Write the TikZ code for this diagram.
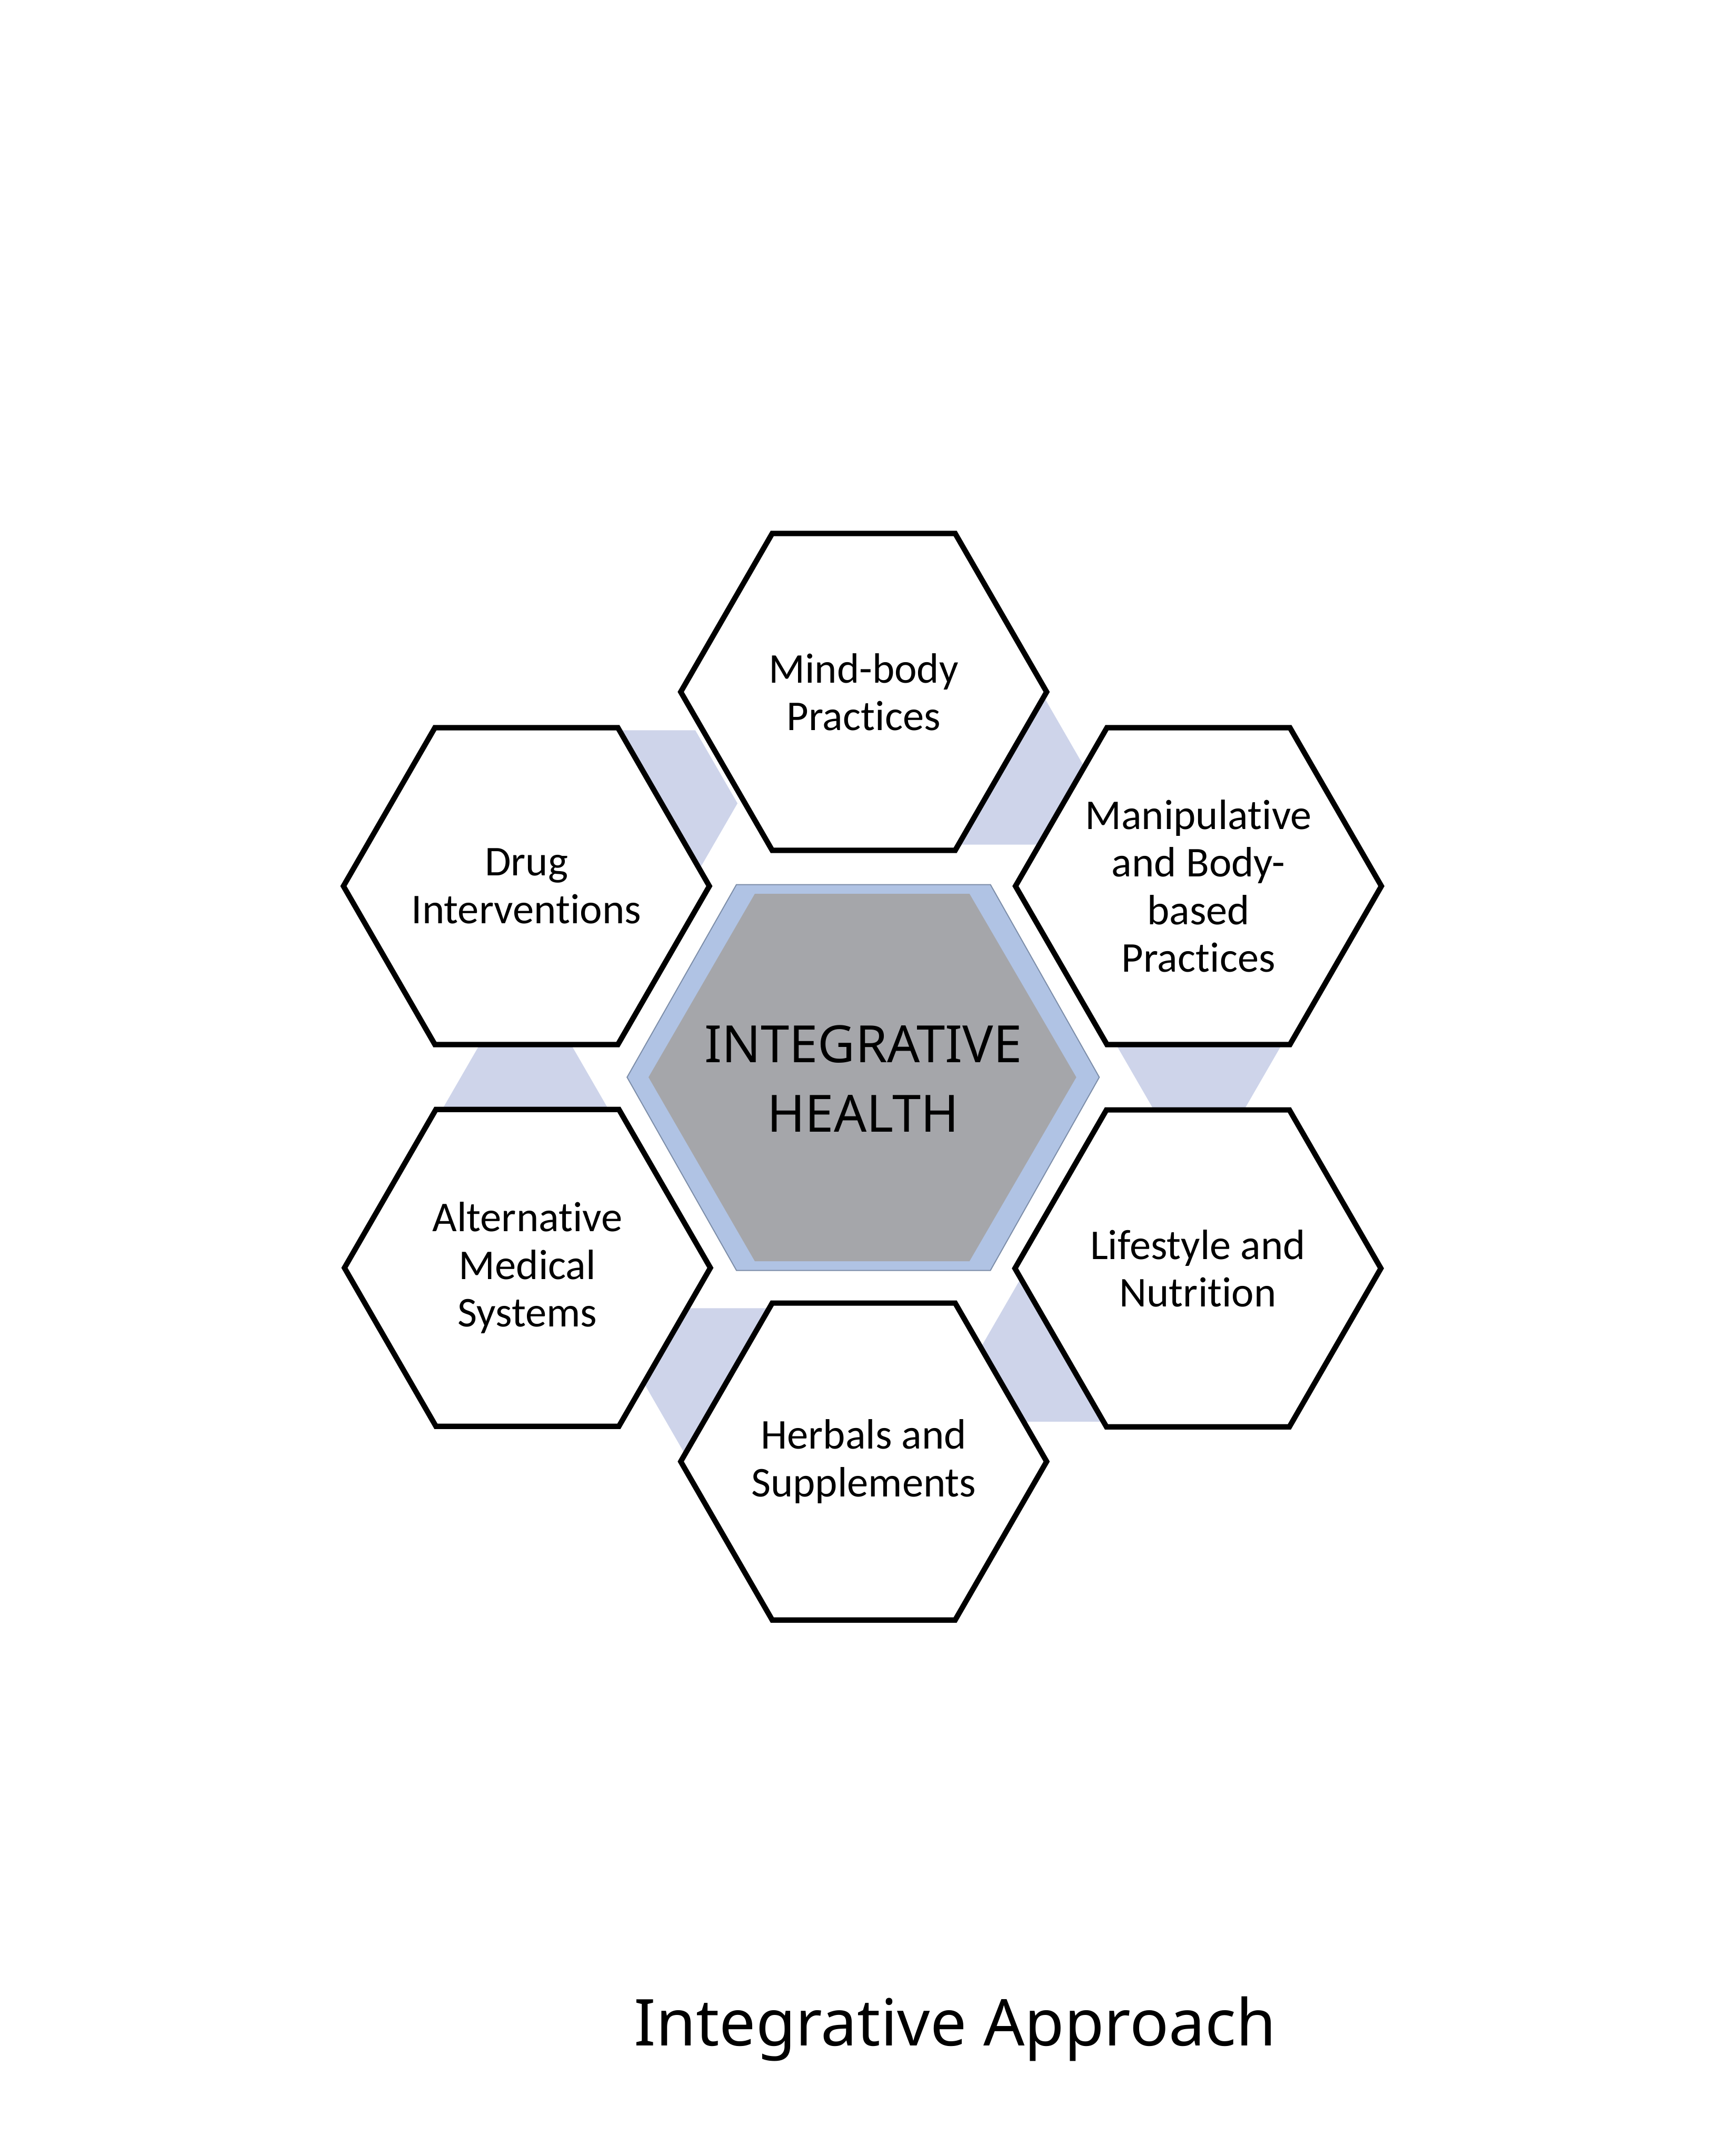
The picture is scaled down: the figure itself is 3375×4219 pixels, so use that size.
\documentclass[tikz,border=0pt]{standalone}
\usepackage{fontspec}
\setmainfont{Carlito}[Ligatures={NoCommon}]
\newfontfamily\notosans{Noto Sans}
\usetikzlibrary{shapes.geometric}
\definecolor{bandcol}{RGB}{206,212,234}
\definecolor{rimcol}{RGB}{176,195,228}
\definecolor{coregray}{RGB}{165,166,170}
\definecolor{rimline}{RGB}{124,141,168}
\begin{document}
\begin{tikzpicture}[x=0.2pt,y=-0.2pt,
  outerhex/.style={regular polygon, regular polygon sides=6, minimum size=143.2pt,
    inner sep=0pt, outer sep=0pt, draw=black, line width=2.1pt, fill=white},
  hexlabel/.style={inner sep=0pt, align=center, font=\fontsize{16.6}{18.6}\selectfont},
  bandhex/.style={regular polygon, regular polygon sides=6, minimum size=66pt,
    inner sep=0pt, outer sep=0pt, fill=bandcol, draw=none},
  corelabel/.style={align=center, font=\notosans\fontsize{20.1}{27.2}\selectfont},
  titlelabel/.style={anchor=base, font=\notosans\fontsize{25.3}{30}\selectfont}]
\useasboundingbox[fill=white] (0,0) rectangle (3375,4219);
% connector bands (behind)
\node[bandhex] (band1) at (1278,1572) {};
\node[bandhex] (band2) at (1962,1510) {};
\node[bandhex] (band3) at (2346,2039) {};
\node[bandhex] (band4) at (2083,2639) {};
\node[bandhex] (band5) at (1423,2703) {};
\node[bandhex] (band6) at (1028,2175) {};
% outer hexagons
\node[outerhex] (mb) at (1690,1354) {};
\node[outerhex] (di) at (1030,1734) {};
\node[outerhex] (mp) at (2345,1734) {};
\node[outerhex] (ln) at (2344,2482) {};
\node[outerhex] (hs) at (1690,2860) {};
\node[outerhex] (am) at (1032,2481) {};
\node[hexlabel] (mbt) at (mb.center) {Mind-body\\Practices};
\node[hexlabel] (dit) at (di.center) {Drug\\Interventions};
\node[hexlabel] (mpt) at (mp.center) {Manipulative\\and Body-\\based\\Practices};
\node[hexlabel] (lnt) at (ln.center) {Lifestyle and\\Nutrition};
\node[hexlabel] (hst) at (hs.center) {Herbals and\\Supplements};
\node[hexlabel] (amt) at (am.center) {Alternative\\Medical\\Systems};
% central hexagon
\filldraw[fill=rimcol, draw=rimline, line width=0.4pt]
  (1441,1731) -- (1938,1731) -- (2151,2108) -- (1938,2486) -- (1441,2486) -- (1227,2108) -- cycle;
\fill[coregray]
  (1477,1749) -- (1897,1749) -- (2106,2108) -- (1897,2468) -- (1477,2468) -- (1269,2108) -- cycle;
\node[corelabel] (core) at (1689,2111) {INTEGRATIVE\\HEALTH};
% title
\node[titlelabel] (title) at (1869,4003) {Integrative Approach};
\end{tikzpicture}
\end{document}
